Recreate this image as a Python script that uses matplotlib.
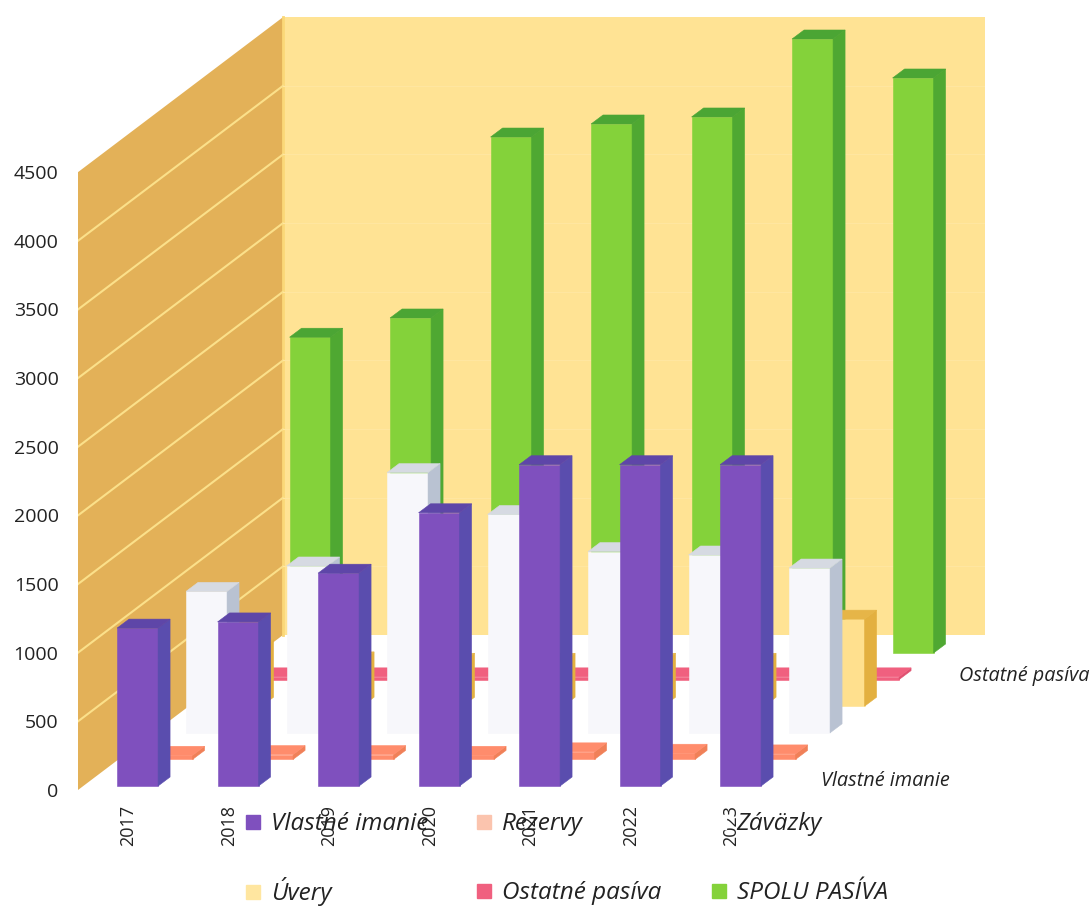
import matplotlib
matplotlib.use("Agg")
import matplotlib.pyplot as plt
from matplotlib.lines import Line2D

years = ["2017", "2018", "2019", "2020", "2021", "2022", "2023"]
vlastne_imanie = [1150, 1195, 1550, 1990, 2340, 2340, 2340]
rezervy = [30, 35, 35, 30, 55, 45, 40]
zavazky = [1030, 1215, 1895, 1590, 1320, 1295, 1200]
uvery = [420, 330, 320, 320, 320, 320, 634]
ostatne_pasiva = [20, 20, 20, 20, 20, 20, 20]
spolu_pasiva = [2300, 2440, 3758, 3853, 3904, 4472, 4188]
y_ticks = [0, 500, 1000, 1500, 2000, 2500, 3000, 3500, 4000, 4500]

W, H = 1091, 907
PX_CAT = 100.5          # pixels per category
PX_VAL = 0.1373         # pixels per value unit
LEFT, BOTTOM, RIGHT, TOP = 78, 790, 985, 14

FONT = "Open Sans"
fig = plt.figure(figsize=(W / 100, H / 100), dpi=100, facecolor="white")
ax = fig.add_axes([LEFT / W, 1 - BOTTOM / H, (RIGHT - LEFT) / W, (BOTTOM - TOP) / H])
ax.set_xlim(0, (RIGHT - LEFT) / PX_CAT)
ax.set_ylim(0, (BOTTOM - TOP) / PX_VAL)
ax.patch.set_visible(False)
for s in ax.spines.values():
    s.set_visible(False)

# oblique depth vectors in data units
ROW_X, ROW_Y = 34.5 / PX_CAT, 26.6 / PX_VAL
WALL_X, WALL_Y = 205 / PX_CAT, 155 / PX_VAL
BAR_W = 41 / PX_CAT
BAR_X0 = 0.336
START_X, START_Y = 5.3 / PX_CAT, 4 / PX_VAL
DEPTH_X, DEPTH_Y = 12 / PX_CAT, 9 / PX_VAL
xmax = ax.get_xlim()[1]
TOP_V = 4500

# walls
ax.fill([0, WALL_X, WALL_X, 0], [0, WALL_Y, WALL_Y + TOP_V, TOP_V],
        color="#E3B158", lw=0, zorder=1)
ax.fill([WALL_X, xmax, xmax, WALL_X], [WALL_Y, WALL_Y, WALL_Y + TOP_V, WALL_Y + TOP_V],
        color="#FFE394", lw=0, zorder=1)
ax.plot([WALL_X, WALL_X], [WALL_Y, WALL_Y + TOP_V], color="#FBD878", lw=2, zorder=1.1)
for v in y_ticks[1:-1]:
    ax.plot([0, WALL_X], [v, v + WALL_Y], color="#FBE08A", lw=1.5, zorder=1.2)
    ax.plot([WALL_X, xmax], [v + WALL_Y, v + WALL_Y], color="#FFE6A0", lw=0.8, zorder=1.2)

series = [
    (vlastne_imanie, "#7F50BE", "#5A4DAE", "#5E46A8"),
    (rezervy, "#FF8C6C", "#F08058", "#FF8C6C"),
    (zavazky, "#F7F7FB", "#B9C2D2", "#D6DAE2"),
    (uvery, "#FFE08E", "#E3B040", "#E6B548"),
    (ostatne_pasiva, "#F0607F", "#E05070", "#F0607F"),
    (spolu_pasiva, "#84D23A", "#4FA832", "#4BA534"),
]


def draw_bar(cat, val, row, front, side, top, z):
    x0 = cat + BAR_X0 + START_X + row * ROW_X
    y0 = START_Y + row * ROW_Y
    x1 = x0 + BAR_W
    ax.fill([x0, x1, x1, x0], [y0, y0, y0 + val, y0 + val], color=front, lw=0.4, zorder=z)
    ax.fill([x1, x1 + DEPTH_X, x1 + DEPTH_X, x1],
            [y0, y0 + DEPTH_Y, y0 + DEPTH_Y + val, y0 + val], color=side, lw=0.4, zorder=z)
    ax.fill([x0, x1, x1 + DEPTH_X, x0 + DEPTH_X],
            [y0 + val, y0 + val, y0 + val + DEPTH_Y, y0 + val + DEPTH_Y],
            color=top, lw=0.4, zorder=z)


for row in range(5, -1, -1):
    vals, front, side, top = series[row]
    for c, v in enumerate(vals):
        draw_bar(c, v, row, front, side, top, 2 + (5 - row) * 0.1)

# depth labels
for row, name, lift in [(0, "Vlastné imanie", 5), (4, "Ostatné pasíva", 4)]:
    ax.text(len(years) + 40 / PX_CAT + row * ROW_X, START_Y + row * ROW_Y + lift / PX_VAL,
            name, style="italic", family=FONT, fontsize=14.3, color="#222222",
            ha="left", va="center", clip_on=False, zorder=3)

# axes ticks
ax.set_xticks([i + 0.5 for i in range(len(years))])
ax.set_xticklabels(years, rotation=90, family=FONT, fontsize=13, color="#222222")
ax.set_yticks(y_ticks)
ax.set_yticklabels([str(v) for v in y_ticks], family=FONT, fontsize=14, color="#222222")
ax.tick_params(axis="both", length=0)
ax.tick_params(axis="x", pad=11)
ax.tick_params(axis="y", pad=14)

# legend: three columns, each its own legend so the rows line up
def hnd(c):
    return Line2D([], [], ls="none", marker="s", ms=10.5, mfc=c, mec=c)


columns = [
    (246, 1.695, [("#7F50BE", "Vlastné imanie"), ("#FFE6A0", "Úvery")]),
    (477, 1.86, [("#FBC4AE", "Rezervy"), ("#F0607F", "Ostatné pasíva")]),
    (712, 1.86, [("#FFFFFF", "Záväzky"), ("#84D23A", "SPOLU PASÍVA")]),
]
for x_px, spacing, entries in columns:
    leg = fig.legend([hnd(c) for c, _ in entries], [n for _, n in entries],
                     frameon=False, loc="upper left",
                     bbox_to_anchor=(x_px / W, 1 - 812 / H), borderaxespad=0, borderpad=0,
                     prop={"family": FONT, "style": "italic", "size": 17.45},
                     handlelength=0.6, handletextpad=0.42, labelspacing=spacing)
    for t in leg.get_texts():
        t.set_color("#222222")

fig.savefig("out.png", dpi=100)
